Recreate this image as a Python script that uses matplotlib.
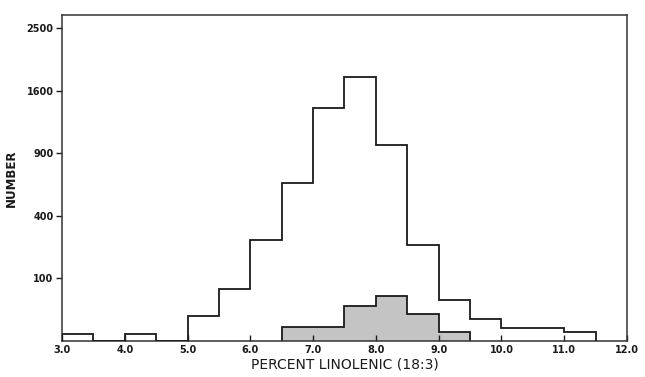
import numpy as np
import matplotlib
matplotlib.use("Agg")
import matplotlib.pyplot as plt

# Histogram of percent linolenic acid (18:3); y axis is square-root scaled
bin_edges = [3.0, 3.5, 4.0, 4.5, 5.0, 5.5, 6.0, 6.5, 7.0, 7.5, 8.0,
             8.5, 9.0, 9.5, 10.0, 10.5, 11.0, 11.5]
all_counts = [1, 0, 1, 0, 16, 67, 259, 633, 1388, 1781, 978,
              233, 43, 12, 4, 4, 2]

sub_edges = [6.5, 7.0, 7.5, 8.0, 8.5, 9.0, 9.5]
sub_counts = [5, 5, 30, 51, 18, 2]

y_ticks = [100, 400, 900, 1600, 2500]
x_ticks = [3.0, 4.0, 5.0, 6.0, 7.0, 8.0, 9.0, 10.0, 11.0, 12.0]

plt.rcParams["font.family"] = ["DejaVu Sans"]

fig = plt.figure(figsize=(6.45, 3.77), dpi=100)
ax = fig.add_axes([0.0961, 0.0968, 0.876, 0.863])

ax.stairs(sub_counts, sub_edges, fill=True, color="#c4c4c4", zorder=1)
ax.stairs(sub_counts, sub_edges, fill=False, color="#1a1a1a", lw=1.3, zorder=2)
ax.stairs(all_counts, bin_edges, fill=False, color="#1a1a1a", lw=1.3, zorder=3)

ax.set_yscale("function", functions=(lambda y: np.sqrt(np.clip(y, 0, None)),
                                     lambda y: y ** 2))
ax.set_ylim(0, 2714)
ax.set_xlim(3.0, 12.0)

ax.set_yticks(y_ticks)
ax.set_yticklabels([str(v) for v in y_ticks])
ax.set_xticks(x_ticks)
ax.set_xticklabels([f"{v:.1f}" for v in x_ticks])
ax.minorticks_off()

ax.tick_params(axis="y", direction="out", length=4, width=1, pad=2,
               labelsize=7, colors="#1a1a1a")
ax.tick_params(axis="x", direction="in", length=4, width=1, pad=3,
               labelsize=7, colors="#1a1a1a")
for lbl in ax.get_xticklabels() + ax.get_yticklabels():
    lbl.set_fontweight("bold")

for s in ax.spines.values():
    s.set_linewidth(1.1)
    s.set_color("#333333")

ax.set_xlabel("PERCENT LINOLENIC (18:3)", fontsize=10, labelpad=2, color="#1a1a1a")
ax.set_ylabel("NUMBER", fontsize=8.5, fontweight="bold", labelpad=6, color="#1a1a1a")

fig.savefig("out.png", dpi=100)
